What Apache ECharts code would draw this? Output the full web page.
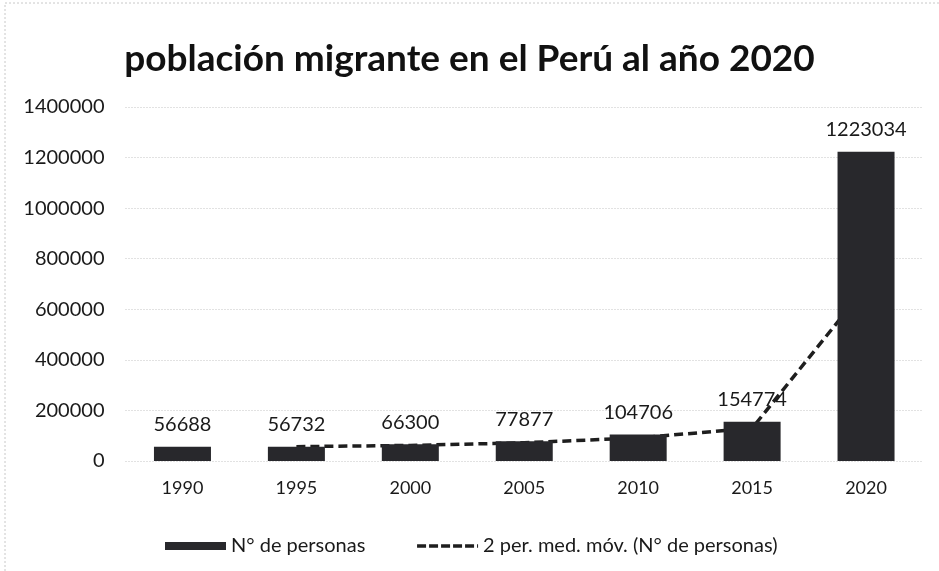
<!DOCTYPE html>
<html>
<head>
<meta charset="utf-8">
<script src="https://cdn.jsdelivr.net/npm/echarts@6/dist/echarts.min.js"></script>
<style>html,body{margin:0;padding:0;background:#fff}#c{width:939px;height:571px}</style>
</head>
<body>
<div id="c"></div>
<script>
const categories = ['1990','1995','2000','2005','2010','2015','2020'];
const personas = [56688, 56732, 66300, 77877, 104706, 154774, 1223034];
const mediaMovil = [null, 56710, 61516, 72089, 91292, 129740, 688904];
const yTicks = [0, 200000, 400000, 600000, 800000, 1000000, 1200000, 1400000];

const chart = echarts.init(document.getElementById('c'));
const font = 'Lato, "Open Sans", sans-serif';
chart.setOption({
  animation: false,
  backgroundColor: '#fff',
  title: {
    text: 'población migrante en el Perú al año 2020',
    left: 'center', top: 36,
    textStyle: {fontFamily: font, fontWeight: 'bold', fontSize: 37, color: '#111'}
  },
  graphic: [{
    type: 'rect', shape: {x: 5, y: 3, width: 940, height: 580},
    style: {fill: 'none', stroke: '#c8c8c8', lineWidth: 1, lineDash: [2, 2]}, silent: true
  }],
  grid: {left: 125.5, right: 16, top: 107, bottom: 110},
  legend: {
    top: 531, left: 160, itemGap: 50, itemWidth: 61, itemHeight: 8,
    textStyle: {fontFamily: font, fontSize: 20, color: '#1a1a1a'},
    data: [
      {name: 'N° de personas', icon: 'rect'},
      {name: '2 per. med. móv. (N° de personas)', itemStyle: {opacity: 0},
       lineStyle: {color: '#1e1e1e', width: 3.5, type: [9, 3]}}
    ]
  },
  xAxis: {
    type: 'category', data: categories,
    axisLine: {show: false}, axisTick: {show: false},
    axisLabel: {fontFamily: font, fontSize: 18, color: '#1a1a1a', margin: 18}
  },
  yAxis: {
    type: 'value', min: 0, max: 1400000, interval: 200000,
    axisLabel: {fontFamily: font, fontSize: 20, color: '#1a1a1a', margin: 21,
      formatter: v => yTicks.includes(v) ? String(v) : ''},
    splitLine: {lineStyle: {color: '#c4c4c4', type: [1, 2], width: 1}},
    axisLine: {show: false}, axisTick: {show: false}
  },
  series: [
    {
      name: 'N° de personas', type: 'bar', data: personas, barWidth: 57, z: 3,
      itemStyle: {color: '#28282c'},
      label: {show: true, position: 'top', distance: 12, fontFamily: font, fontSize: 20, color: '#1a1a1a'}
    },
    {
      name: '2 per. med. móv. (N° de personas)', type: 'line', data: mediaMovil, z: 2,
      symbol: 'none', connectNulls: false,
      lineStyle: {color: '#1e1e1e', width: 3.5, type: [9, 5]},
      itemStyle: {color: '#1e1e1e'}
    }
  ]
});
</script>
</body>
</html>
